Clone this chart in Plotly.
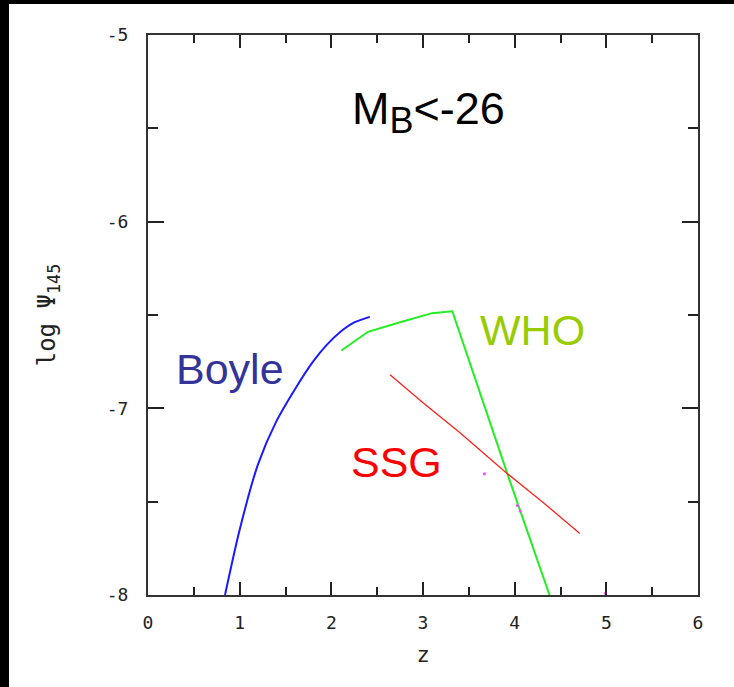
import plotly.graph_objects as go

# Data
boyle_z = [0.84, 1.00, 1.20, 1.40, 1.60, 1.80, 1.95, 2.10, 2.25, 2.42]
boyle_y = [-8.00, -7.65, -7.30, -7.07, -6.90, -6.75, -6.66, -6.59, -6.54, -6.51]

who_z = [2.11, 2.40, 2.74, 3.10, 3.32, 3.92, 4.38]
who_y = [-6.69, -6.59, -6.54, -6.49, -6.48, -7.35, -8.00]

ssg_z = [2.64, 3.00, 3.40, 3.92, 4.30, 4.71]
ssg_y = [-6.82, -6.97, -7.13, -7.35, -7.50, -7.67]

dots_z = [3.67, 4.03, 4.06, 4.99]
dots_y = [-7.35, -7.52, -7.55, -7.99]

x_ticks = [0, 1, 2, 3, 4, 5, 6]
x_ticklabels = ["0", "1", "2", "3", "4", "5", "6"]
y_ticks = [-8, -7, -6, -5]
y_ticklabels = ["-8", "-7", "-6", "-5"]

labels = [
    dict(text="M<sub><span style='font-size:36px'>B</span></sub><-26", z=3.06, y=-5.41, color="#000000", size=45),
    dict(text="Boyle", z=0.89, y=-6.79, color="#333399", size=43),
    dict(text="WHO", z=4.19, y=-6.58, color="#99cc00", size=43),
    dict(text="SSG", z=2.71, y=-7.29, color="#ff0000", size=43),
]

fig = go.Figure()
fig.add_trace(go.Scatter(x=boyle_z, y=boyle_y, mode="lines",
                         line=dict(color="#1a1aff", width=2, shape="spline", smoothing=0.8), showlegend=False))
fig.add_trace(go.Scatter(x=who_z, y=who_y, mode="lines",
                         line=dict(color="#22ee22", width=2), showlegend=False))
fig.add_trace(go.Scatter(x=ssg_z, y=ssg_y, mode="lines",
                         line=dict(color="#ff2020", width=1.3), showlegend=False))
fig.add_trace(go.Scatter(x=dots_z, y=dots_y, mode="markers",
                         marker=dict(color="#ff44ff", size=3), showlegend=False))

for lb in labels:
    fig.add_annotation(x=lb["z"], y=lb["y"], text=lb["text"], showarrow=False,
                       font=dict(family="Liberation Sans, Arial", size=lb["size"], color=lb["color"]))

tick_font = dict(family="DejaVu Sans Mono", size=18, color="#222222")
fig.update_xaxes(range=[0, 6], tickvals=x_ticks, ticktext=x_ticklabels,
                 ticks="inside", ticklen=13, tickwidth=2, tickcolor="#222222",
                 minor=dict(dtick=0.5, ticks="inside", ticklen=8, tickwidth=2, tickcolor="#222222"),
                 showline=True, linecolor="#333333", linewidth=2, mirror="allticks",
                 showgrid=False, zeroline=False, tickfont=tick_font, ticklabelstandoff=10,
                 title=dict(text="z", font=dict(family="DejaVu Sans Mono", size=22, color="#222222"), standoff=15))
fig.update_yaxes(range=[-8, -5], tickvals=y_ticks, ticktext=y_ticklabels,
                 ticks="inside", ticklen=16, tickwidth=2, tickcolor="#222222",
                 minor=dict(dtick=0.5, ticks="inside", ticklen=10, tickwidth=2, tickcolor="#222222"),
                 showline=True, linecolor="#333333", linewidth=2, mirror="allticks",
                 showgrid=False, zeroline=False, tickfont=tick_font, ticklabelstandoff=14,
                 title=dict(text="log Ψ<sub>145</sub>", font=dict(family="DejaVu Sans Mono", size=24, color="#222222"), standoff=44))

# black border strips on the left and top of the picture
W, H = 734, 687
ml, mr, mt, mb = 148, 36, 35, 92
pw, ph = W - ml - mr, H - mt - mb
fig.add_shape(type="rect", xref="paper", yref="paper",
              x0=(-ml - 5) / pw, x1=(-ml + 9) / pw, y0=(-mb - 5) / ph, y1=(ph + mt + 5) / ph,
              fillcolor="black", line=dict(width=0), layer="above")
fig.add_shape(type="rect", xref="paper", yref="paper",
              x0=(-ml - 5) / pw, x1=(pw + mr + 5) / pw, y0=(ph + mt - 4) / ph, y1=(ph + mt + 5) / ph,
              fillcolor="black", line=dict(width=0), layer="above")

fig.update_layout(width=W, height=H, margin=dict(l=ml, r=mr, t=mt, b=mb),
                  plot_bgcolor="white", paper_bgcolor="white")
fig.write_html("out.html", config={"displayModeBar": False},
               post_script="document.body.style.margin='0';document.body.style.overflow='hidden';")
